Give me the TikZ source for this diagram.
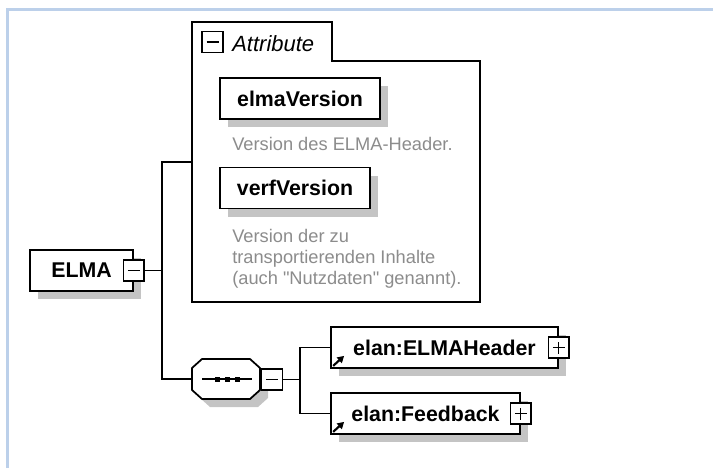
\documentclass[tikz,border=0pt]{standalone}
\usepackage{fontspec}
\setmainfont{Liberation Sans}
\usetikzlibrary{shadows,calc,arrows.meta}
\definecolor{frameblue}{HTML}{BCD0EA}
\definecolor{shadowgray}{HTML}{C4C4C4}
\definecolor{desctext}{HTML}{8C8C8C}
\begin{document}
\begin{tikzpicture}[x=0.75pt,y=-0.75pt,
  elem/.style={draw=black, line width=1.3pt, fill=white, inner sep=0pt,
    minimum height=30.75pt, font=\bfseries\fontsize{16}{19}\selectfont,
    drop shadow={fill=shadowgray, opacity=1, shadow xshift=6pt, shadow yshift=-6pt}},
  tog/.style={draw=black, line width=1.1pt, fill=white, inner sep=0pt, minimum size=15.5pt},
  minus/.style={tog, path picture={\draw[line width=0.9pt]
      ([xshift=-4.5pt]path picture bounding box.center) -- ([xshift=4.5pt]path picture bounding box.center);}},
  plus/.style={tog, path picture={\draw[line width=0.9pt]
      ([xshift=-4.5pt]path picture bounding box.center) -- ([xshift=4.5pt]path picture bounding box.center)
      ([yshift=-4.5pt]path picture bounding box.center) -- ([yshift=4.5pt]path picture bounding box.center);}},
  conn/.style={draw=black, line width=1pt},
  desc/.style={text=desctext, inner sep=0pt, align=left, font=\fontsize{13.7}{15.75}\selectfont},
  refarrow/.style={line width=1.6pt, -{Triangle[length=5pt,width=5.5pt]}},
  grp/.style={draw=black, line width=1.3pt, fill=white}
]
\useasboundingbox (0,0) rectangle (713,468);
% outer frame
\draw[frameblue, line width=2.25pt] (7.5,468) -- (7.5,9.5) -- (713,9.5);

% attribute group
\draw[grp] (192,22) -- (332,22) -- (332,61) -- (480,61) -- (480,302) -- (192,302) -- cycle;
\node[inner sep=0pt, minimum width=216pt, minimum height=210pt] (attr) at (336,162) {};
\node[minus] (attrT) at (212.5,42) {};
\node[anchor=base west, inner sep=0pt, font=\itshape\fontsize{16.5}{19}\selectfont] (attrL) at (232,51) {Attribute};

\node[elem, minimum width=120pt] (ev) at (300,98.5) {elmaVersion};
\node[desc, anchor=base west] (evd) at (232,150) {Version des ELMA-Header.};
\node[elem, minimum width=112.5pt] (vv) at (295,188) {verfVersion};
\node[desc, anchor=north west] (vvd) at (232,229) {Version der zu\\transportierenden Inhalte\\(auch \textquotedbl Nutzdaten\textquotedbl\ genannt).};

% root element
\node[elem, minimum width=77.25pt] (elma) at (81.5,270.5) {ELMA};
\node[minus] (elmaT) at (elma.east) {};

% sequence compositor
\node[inner sep=0pt, minimum width=51pt, minimum height=30pt] (seq) at (226,379) {};
\fill[shadowgray] (200,376) -- (210,367) -- (258,367) -- (268,376) -- (268,398) -- (258,407) -- (210,407) -- (200,398) -- cycle;
\draw[grp] (192,368) -- (202,359) -- (250,359) -- (260,368) -- (260,390) -- (250,399) -- (202,399) -- (192,390) -- cycle;
\draw[line width=1pt] (202,379) -- (252,379);
\fill (214.5,376.5) rectangle +(5,5);
\fill (224.5,376.5) rectangle +(5,5);
\fill (234.5,376.5) rectangle +(5,5);
\node[minus] (seqT) at (272,379.5) {};

% children
\node[elem, minimum width=170.25pt] (hdr) at (444.5,347.5) {elan:ELMAHeader};
\node[plus] (hdrT) at (hdr.east) {};
\draw[refarrow] ($(hdr.south west)+(3,-3)$) -- ($(hdr.south west)+(14,-13)$);
\node[elem, minimum width=141.75pt] (fb) at (425.5,413.5) {elan:Feedback};
\node[plus] (fbT) at (fb.east) {};
\draw[refarrow] ($(fb.south west)+(3,-3)$) -- ($(fb.south west)+(14,-13)$);

% connectors
\coordinate (spine) at (162,0);
\coordinate (spineb) at (300,0);
\draw[conn] (elmaT.east) -- (elmaT.east -| spine);
\draw[conn] (attr.west) -- (attr.west -| spine) |- (seq.west);
\draw[conn] (seqT.east) -- (seqT.east -| spineb);
\draw[conn] (hdr.west) -- (hdr.west -| spineb) |- (fb.west);
\end{tikzpicture}
\end{document}
